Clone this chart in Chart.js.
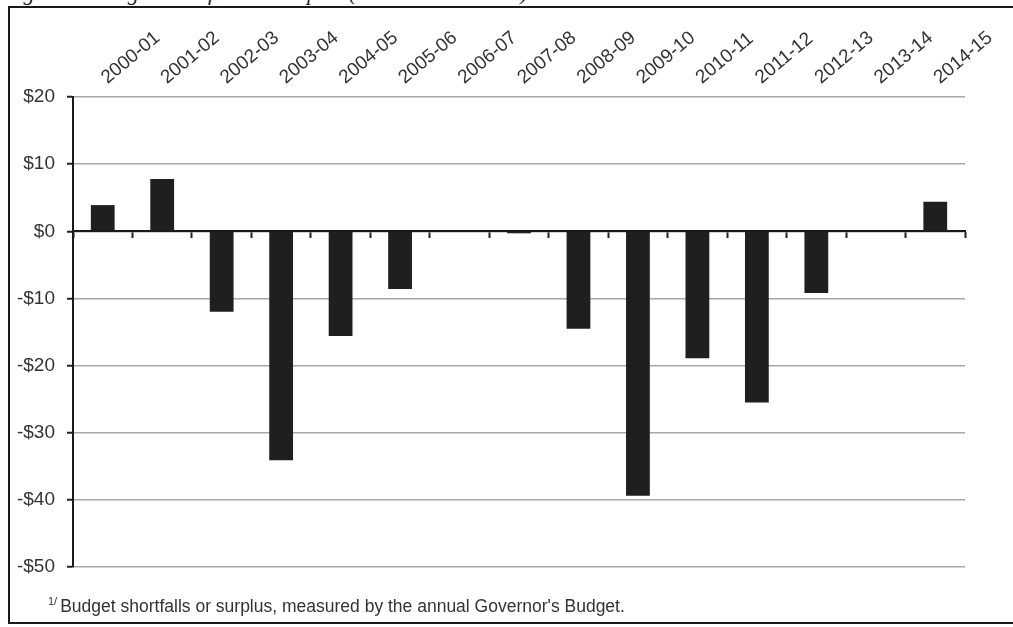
<!DOCTYPE html>
<html lang="en">
<head>
    <meta charset="UTF-8">
    <title>Budget Shortfalls or Surplus</title>
    <style>
        body {
            margin: 0;
            padding: 0;
            background-color: #fff;
            width: 1013px;
            height: 627px;
            overflow: hidden;
            position: relative;
            font-family: 'Liberation Sans', Arial, sans-serif;
        }

        /* figure title, cut off by the top of the page */
        #fig-title {
            position: absolute;
            left: 4px;
            top: -18px;
            font-family: 'Liberation Serif', serif;
            font-style: italic;
            font-size: 22px;
            line-height: 22px;
            color: #222;
            white-space: nowrap;
        }

        #frame {
            position: absolute;
            left: 8px;
            top: 6px;
            width: 1020px;
            height: 614px;
            border: 2px solid #1a1a1a;
            background: transparent;
        }

        #chart-box {
            position: absolute;
            left: 0;
            top: 0;
            width: 1013px;
            height: 627px;
        }

        #footnote {
            position: absolute;
            left: 48px;
            top: 591px;
            font-size: 17.5px;
            line-height: 20px;
            color: #333;
            white-space: nowrap;
        }

        #footnote sup {
            font-size: 11px;
            vertical-align: 7px;
            margin-right: 3px;
        }
    </style>
</head>
<body>

    <div id="fig-title">Figure 1: Budget Shortfalls or Surplus (Dollars in Billions)</div>
    <div id="frame"></div>

    <div id="chart-box">
        <canvas id="budgetChart"></canvas>
    </div>

    <div id="footnote"><sup>1/</sup>Budget shortfalls or surplus, measured by the annual Governor's Budget.</div>

    <script src="https://cdn.jsdelivr.net/npm/chart.js"></script>
    <script>
        // fiscal years and shortfall / surplus (billions of dollars)
        var fiscalYears = ['2000-01', '2001-02', '2002-03', '2003-04', '2004-05', '2005-06', '2006-07', '2007-08',
                           '2008-09', '2009-10', '2010-11', '2011-12', '2012-13', '2013-14', '2014-15'];
        var budgetGap = [3.9, 7.8, -12.0, -34.1, -15.6, -8.6, 0, -0.3, -14.5, -39.4, -18.9, -25.5, -9.2, 0, 4.4];
        var yTicks = [20, 10, 0, -10, -20, -30, -40, -50];

        var labelFont = { family: "'Liberation Sans', Arial, sans-serif", size: 19 };

        var ctx = document.getElementById('budgetChart').getContext('2d');
        var budgetChart = new Chart(ctx, {
            type: 'bar',
            data: {
                labels: fiscalYears,
                datasets: [{
                    label: 'Budget shortfall / surplus',
                    data: budgetGap,
                    backgroundColor: '#1f1f1f',
                    borderWidth: 0,
                    barPercentage: 0.4,
                    categoryPercentage: 1.0,
                    xAxisID: 'x',
                    yAxisID: 'y'
                }]
            },
            options: {
                responsive: true,
                maintainAspectRatio: false,
                animation: false,
                layout: {
                    padding: { left: 0, top: 0, right: 48, bottom: 60 }
                },
                plugins: {
                    legend: { display: false },
                    tooltip: { enabled: false }
                },
                scales: {
                    // zero line with category ticks
                    x: {
                        type: 'category',
                        position: { y: 0 },
                        offset: true,
                        ticks: { display: false },
                        grid: {
                            offset: true,
                            drawOnChartArea: false,
                            drawTicks: true,
                            tickLength: 6,
                            tickColor: '#222',
                            tickWidth: 2
                        },
                        border: { display: true, color: '#1a1a1a', width: 2 }
                    },
                    // year labels along the top
                    x2: {
                        type: 'category',
                        position: 'top',
                        offset: true,
                        grid: { display: false, drawTicks: false },
                        border: { display: false },
                        ticks: {
                            minRotation: 40,
                            maxRotation: 40,
                            autoSkip: false,
                            padding: 8,
                            labelOffset: 16,
                            color: '#333',
                            font: labelFont
                        },
                        afterFit: function (scale) {
                            scale.height = 97;
                            scale.paddingLeft = 0;
                            scale.paddingRight = 0;
                        }
                    },
                    y: {
                        min: -50,
                        max: 20,
                        afterBuildTicks: function (scale) {
                            scale.ticks = yTicks.map(function (v) { return { value: v }; });
                        },
                        ticks: {
                            padding: 12,
                            color: '#333',
                            font: labelFont,
                            callback: function (value) {
                                return value < 0 ? '-$' + Math.abs(value) : '$' + value;
                            }
                        },
                        grid: {
                            color: '#a8a8a8',
                            lineWidth: 1.5,
                            tickColor: '#222',
                            tickLength: 6,
                            tickWidth: 2
                        },
                        border: { display: true, color: '#1a1a1a', width: 2 },
                        afterFit: function (scale) {
                            scale.width = 73;
                        }
                    }
                }
            }
        });
    </script>

</body>
</html>
